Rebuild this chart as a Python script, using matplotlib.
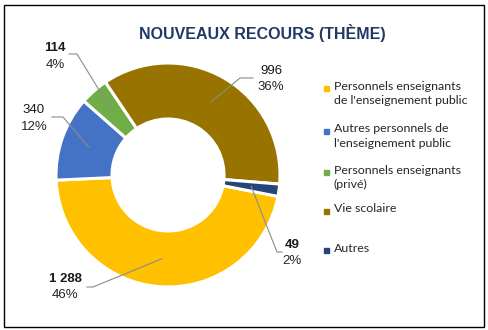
import matplotlib
matplotlib.use('Agg')

import matplotlib.pyplot as plt
import numpy as np
from matplotlib.lines import Line2D
from matplotlib.patches import Rectangle

# data
categories = ["Personnels enseignants\nde l'enseignement public",
              "Autres personnels de\nl'enseignement public",
              "Personnels enseignants\n(privé)",
              "Vie scolaire",
              "Autres"]
values = [1288, 340, 114, 996, 49]
value_labels = ["1 288", "340", "114", "996", "49"]
colors = ['#FFC000', '#4472C4', '#70AD47', '#997300', '#264478']

# label text positions (pixels in the 489x330 image)
label_pos = [(65, 279), (34, 110), (55, 48), (271, 71), (292, 245)]
label_weight = ['bold', 'normal', 'bold', 'normal', 'bold']
# leader line: start x, y, elbow x (pixels)
elbow = [(87, 287, 93), (52, 117, 63), (69, 54, 77), (253, 78, 240), (282, 252, 277)]
legend_y = [88, 131, 172, 211, 250]

W, H = 489, 330
cx, cy, R = 168, 175, 112

fig = plt.figure(figsize=(W / 100, H / 100), dpi=100)
fig.add_artist(Rectangle((4 / W, 3 / H), 480 / W, 322 / H, transform=fig.transFigure,
                         fill=False, edgecolor='black', linewidth=1.0))

ax = fig.add_axes([(cx - R) / W, (H - cy - R) / H, 2 * R / W, 2 * R / H])
wedges, _ = ax.pie(values, colors=colors, startangle=-11, counterclock=False,
                   radius=1.0, wedgeprops=dict(width=0.5, edgecolor='white', linewidth=2.2))
ax.set_xlim(-1, 1)
ax.set_ylim(-1, 1)
ax.set_aspect('equal')
ax.axis('off')


def px(x, y):
    return (x - cx) / R, (cy - y) / R


total = sum(values)
for i, w in enumerate(wedges):
    mid = np.deg2rad((w.theta1 + w.theta2) / 2)
    ax_x, ax_y = 0.75 * np.cos(mid), 0.75 * np.sin(mid)
    ex0, ey, ex1 = elbow[i]
    x0, y0 = px(ex0, ey)
    x1, _ = px(ex1, ey)
    ax.plot([x0, x1, ax_x], [y0, y0, ax_y], color='#8C8C8C', linewidth=0.8,
            clip_on=False, zorder=5)
    tx, ty = label_pos[i]
    lx, ly = px(tx, ty)
    ax.text(lx, ly, value_labels[i], ha='center', va='center', fontsize=9.5,
            fontweight=label_weight[i], family='Liberation Sans', color='#1a1a1a',
            clip_on=False)
    lx2, ly2 = px(tx, ty + 16.5)
    pct = round(values[i] / total * 100)
    ax.text(lx2, ly2, f"{pct}%", ha='center', va='center', fontsize=9.5,
            family='Liberation Sans', color='#262626', clip_on=False)

fig.text(262 / W, 1 - 33 / H, 'NOUVEAUX RECOURS (THÈME)', ha='center', va='center',
         fontsize=11.5, fontweight='bold', family='Liberation Sans', color='#203864')

for cat, col, y in zip(categories, colors, legend_y):
    fig.add_artist(Line2D([326 / W], [1 - y / H], marker='s', markersize=3.6,
                          color=col, linestyle='none', transform=fig.transFigure))
    fig.text(334 / W, 1 - (y - 7.5) / H, cat, ha='left', va='top', fontsize=8.9,
             family='Lato', color='#262626', linespacing=1.38)

plt.savefig('out.png', dpi=100)
